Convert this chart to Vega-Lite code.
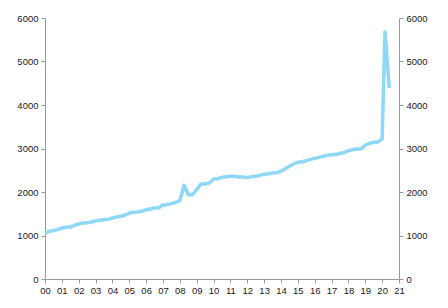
{
  "$schema": "https://vega.github.io/schema/vega-lite/v6.json",
  "width": 354,
  "height": 261,
  "autosize": {"type": "none"},
  "padding": {"left": 45, "top": 18, "right": 49, "bottom": 29},
  "background": "white",
  "config": {
    "view": {"stroke": null},
    "axis": {"labelFont": "Liberation Sans", "labelFontSize": 9.5, "labelColor": "#1a1a1a", "domainColor": "#999999", "tickColor": "#999999", "tickSize": 4, "grid": false, "title": null}
  },
  "data": {"values": [
    {"t": 0.0, "v": 1057}, {"t": 0.25, "v": 1096}, {"t": 0.5, "v": 1111}, {"t": 0.75, "v": 1134},
    {"t": 1.0, "v": 1172}, {"t": 1.25, "v": 1188}, {"t": 1.5, "v": 1195}, {"t": 1.75, "v": 1234},
    {"t": 2.0, "v": 1264}, {"t": 2.25, "v": 1287}, {"t": 2.5, "v": 1295}, {"t": 2.75, "v": 1310},
    {"t": 3.0, "v": 1333}, {"t": 3.25, "v": 1349}, {"t": 3.5, "v": 1364}, {"t": 3.75, "v": 1372},
    {"t": 4.0, "v": 1402}, {"t": 4.25, "v": 1425}, {"t": 4.5, "v": 1441}, {"t": 4.75, "v": 1471},
    {"t": 5.0, "v": 1510}, {"t": 5.25, "v": 1533}, {"t": 5.5, "v": 1540}, {"t": 5.75, "v": 1556},
    {"t": 6.0, "v": 1594}, {"t": 6.25, "v": 1609}, {"t": 6.5, "v": 1632}, {"t": 6.75, "v": 1640},
    {"t": 7.0, "v": 1701}, {"t": 7.25, "v": 1709}, {"t": 7.5, "v": 1732}, {"t": 7.75, "v": 1762},
    {"t": 8.0, "v": 1801}, {"t": 8.25, "v": 2153}, {"t": 8.5, "v": 1939}, {"t": 8.75, "v": 1939},
    {"t": 9.0, "v": 2054}, {"t": 9.25, "v": 2184}, {"t": 9.5, "v": 2184}, {"t": 9.75, "v": 2207},
    {"t": 10.0, "v": 2299}, {"t": 10.25, "v": 2307}, {"t": 10.5, "v": 2337}, {"t": 10.75, "v": 2352},
    {"t": 11.0, "v": 2360}, {"t": 11.25, "v": 2360}, {"t": 11.5, "v": 2345}, {"t": 11.75, "v": 2345},
    {"t": 12.0, "v": 2330}, {"t": 12.25, "v": 2352}, {"t": 12.5, "v": 2360}, {"t": 12.75, "v": 2383},
    {"t": 13.0, "v": 2406}, {"t": 13.25, "v": 2421}, {"t": 13.5, "v": 2437}, {"t": 13.75, "v": 2444},
    {"t": 14.0, "v": 2475}, {"t": 14.25, "v": 2536}, {"t": 14.5, "v": 2590}, {"t": 14.75, "v": 2644},
    {"t": 15.0, "v": 2682}, {"t": 15.25, "v": 2697}, {"t": 15.5, "v": 2720}, {"t": 15.75, "v": 2751},
    {"t": 16.0, "v": 2774}, {"t": 16.25, "v": 2797}, {"t": 16.5, "v": 2820}, {"t": 16.75, "v": 2843},
    {"t": 17.0, "v": 2858}, {"t": 17.25, "v": 2866}, {"t": 17.5, "v": 2889}, {"t": 17.75, "v": 2904},
    {"t": 18.0, "v": 2950}, {"t": 18.25, "v": 2973}, {"t": 18.5, "v": 2989}, {"t": 18.75, "v": 2989},
    {"t": 19.0, "v": 3080}, {"t": 19.25, "v": 3119}, {"t": 19.5, "v": 3142}, {"t": 19.75, "v": 3149},
    {"t": 20.0, "v": 3226}, {"t": 20.17, "v": 5680}, {"t": 20.42, "v": 4390}
  ]},
  "encoding": {
    "x": {"field": "t", "type": "quantitative", "scale": {"domain": [0, 21], "nice": false},
          "axis": {"values": [0,1,2,3,4,5,6,7,8,9,10,11,12,13,14,15,16,17,18,19,20,21], "labelExpr": "datum.value < 10 ? '0' + datum.value : '' + datum.value", "labelPadding": 2, "labelFlush": false}}
  },
  "layer": [
    {
      "mark": {"type": "line", "color": "#8DD7F7", "strokeWidth": 3.5, "strokeJoin": "round"},
      "encoding": {
        "y": {"field": "v", "type": "quantitative", "scale": {"domain": [0, 6000], "nice": false},
              "axis": {"orient": "left", "values": [0,1000,2000,3000,4000,5000,6000], "format": "d", "labelPadding": 3}}
      }
    },
    {
      "mark": {"type": "line", "opacity": 0},
      "encoding": {
        "y": {"field": "v", "type": "quantitative", "scale": {"domain": [0, 6000], "nice": false},
              "axis": {"orient": "right", "values": [0,1000,2000,3000,4000,5000,6000], "format": "d", "labelPadding": 3}}
      }
    }
  ],
  "resolve": {"axis": {"y": "independent"}}
}
